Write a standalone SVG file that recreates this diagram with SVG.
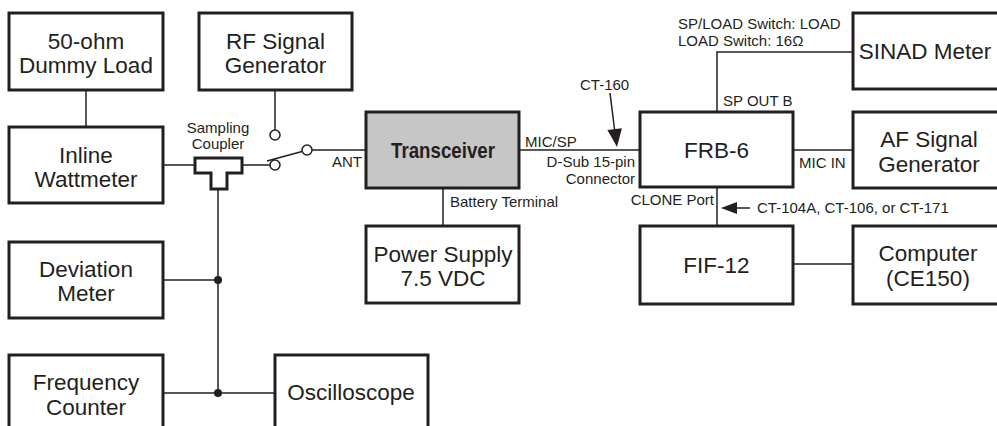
<svg xmlns="http://www.w3.org/2000/svg" width="997" height="426" viewBox="0 0 997 426">
<style>
.box{fill:#fff;stroke:#231f20;stroke-width:3}
.gray{fill:#c6c6c6}
.ln{fill:none;stroke:#231f20;stroke-width:1.5}
.big{font-family:"Liberation Sans",Arial,sans-serif;font-size:22.5px;fill:#231f20;text-anchor:middle}
.bold{font-weight:bold}
.sm{font-family:"Liberation Sans",Arial,sans-serif;font-size:15px;fill:#231f20}
.mid{text-anchor:middle}
.end{text-anchor:end}
.term{fill:#fff;stroke:#231f20;stroke-width:1.5}
.dot{fill:#231f20}
</style>
<rect width="997" height="426" fill="#fff"/>
<g id="connectors">
<line class="ln" x1="86" y1="90" x2="86" y2="127"/>
<line class="ln" x1="275" y1="90" x2="275" y2="130"/>
<line class="ln" x1="163" y1="165" x2="195" y2="165"/>
<line class="ln" x1="242" y1="165" x2="270" y2="165"/>
<line class="ln" x1="267" y1="161" x2="302" y2="151.5"/>
<line class="ln" x1="312" y1="150" x2="366" y2="150"/>
<line class="ln" x1="519" y1="150" x2="640" y2="150"/>
<line class="ln" x1="793" y1="150" x2="853" y2="150"/>
<polyline class="ln" points="717,112 717,52 853,52"/>
<line class="ln" x1="443" y1="188" x2="443" y2="226"/>
<line class="ln" x1="717" y1="187" x2="717" y2="226"/>
<line class="ln" x1="793" y1="264" x2="853" y2="264"/>
<line class="ln" x1="218" y1="189" x2="218" y2="393"/>
<line class="ln" x1="163" y1="280" x2="218" y2="280"/>
<line class="ln" x1="163" y1="393" x2="275" y2="393"/>
<circle class="dot" cx="218" cy="280" r="4"/>
<circle class="dot" cx="218" cy="393" r="4"/>
<circle class="term" cx="275" cy="135" r="5"/>
<circle class="term" cx="275" cy="165" r="5"/>
<circle class="term" cx="307" cy="150" r="5"/>
<line class="ln" x1="610" y1="93" x2="614.6" y2="130"/>
<polygon class="dot" points="617,147 621.9,128.3 607.4,130.1"/>
<line class="ln" x1="735" y1="208" x2="750" y2="208"/>
<polygon class="dot" points="721,208 737,202 737,214"/>
</g>
<g id="coupler">
<polygon points="195,158 242,158 242,173 227,173 227,189 211,189 211,173 195,173" fill="#fff" stroke="#231f20" stroke-width="3"/>
<text class="sm mid" x="218" y="133">Sampling</text>
<text class="sm mid" x="218" y="149">Coupler</text>
</g>
<g id="dummy-load">
<rect class="box" x="9" y="13" width="154" height="77"/>
<text class="big" x="86" y="49">50-ohm</text>
<text class="big" x="86" y="73">Dummy Load</text>
</g>
<g id="rf-generator">
<rect class="box" x="199" y="13" width="153" height="77"/>
<text class="big" x="275.5" y="49">RF Signal</text>
<text class="big" x="275.5" y="73">Generator</text>
</g>
<g id="wattmeter">
<rect class="box" x="9" y="127" width="154" height="76"/>
<text class="big" x="86" y="163">Inline</text>
<text class="big" x="86" y="187">Wattmeter</text>
</g>
<g id="deviation-meter">
<rect class="box" x="9" y="242" width="154" height="76"/>
<text class="big" x="86" y="277">Deviation</text>
<text class="big" x="86" y="301">Meter</text>
</g>
<g id="frequency-counter">
<rect class="box" x="9" y="355" width="154" height="80"/>
<text class="big" x="86" y="390">Frequency</text>
<text class="big" x="86" y="415">Counter</text>
</g>
<g id="oscilloscope">
<rect class="box" x="275" y="355" width="153" height="80"/>
<text class="big" x="351" y="400">Oscilloscope</text>
</g>
<g id="transceiver">
<rect class="box gray" x="366" y="112" width="153" height="76"/>
<text class="big bold" x="443" y="158" textLength="104" lengthAdjust="spacingAndGlyphs">Transceiver</text>
</g>
<g id="power-supply">
<rect class="box" x="366" y="226" width="153" height="77"/>
<text class="big" x="443" y="262">Power Supply</text>
<text class="big" x="443" y="286">7.5 VDC</text>
</g>
<g id="frb6">
<rect class="box" x="640" y="112" width="153" height="75"/>
<text class="big" x="716.5" y="158">FRB-6</text>
</g>
<g id="fif12">
<rect class="box" x="640" y="226" width="153" height="78"/>
<text class="big" x="716.5" y="273">FIF-12</text>
</g>
<g id="sinad-meter">
<rect class="box" x="853" y="13" width="160" height="76"/>
<text class="big" x="925" y="59">SINAD Meter</text>
</g>
<g id="af-generator">
<rect class="box" x="853" y="112" width="160" height="76"/>
<text class="big" x="929" y="147">AF Signal</text>
<text class="big" x="929" y="172">Generator</text>
</g>
<g id="computer">
<rect class="box" x="853" y="226" width="160" height="78"/>
<text class="big" x="928" y="261">Computer</text>
<text class="big" x="928" y="286">(CE150)</text>
</g>
<g id="labels">
<text class="sm" x="332" y="167">ANT</text>
<text class="sm" x="525" y="147">MIC/SP</text>
<text class="sm end" x="635" y="167">D-Sub 15-pin</text>
<text class="sm end" x="635" y="184">Connector</text>
<text class="sm" x="580" y="90">CT-160</text>
<text class="sm" x="450" y="207">Battery Terminal</text>
<text class="sm" x="678" y="29">SP/LOAD Switch: LOAD</text>
<text class="sm" x="678" y="46">LOAD Switch: 16Ω</text>
<text class="sm" x="723" y="106">SP OUT B</text>
<text class="sm" x="799" y="168">MIC IN</text>
<text class="sm end" x="714" y="205">CLONE Port</text>
<text class="sm" x="757" y="213">CT-104A, CT-106, or CT-171</text>
</g>
</svg>
